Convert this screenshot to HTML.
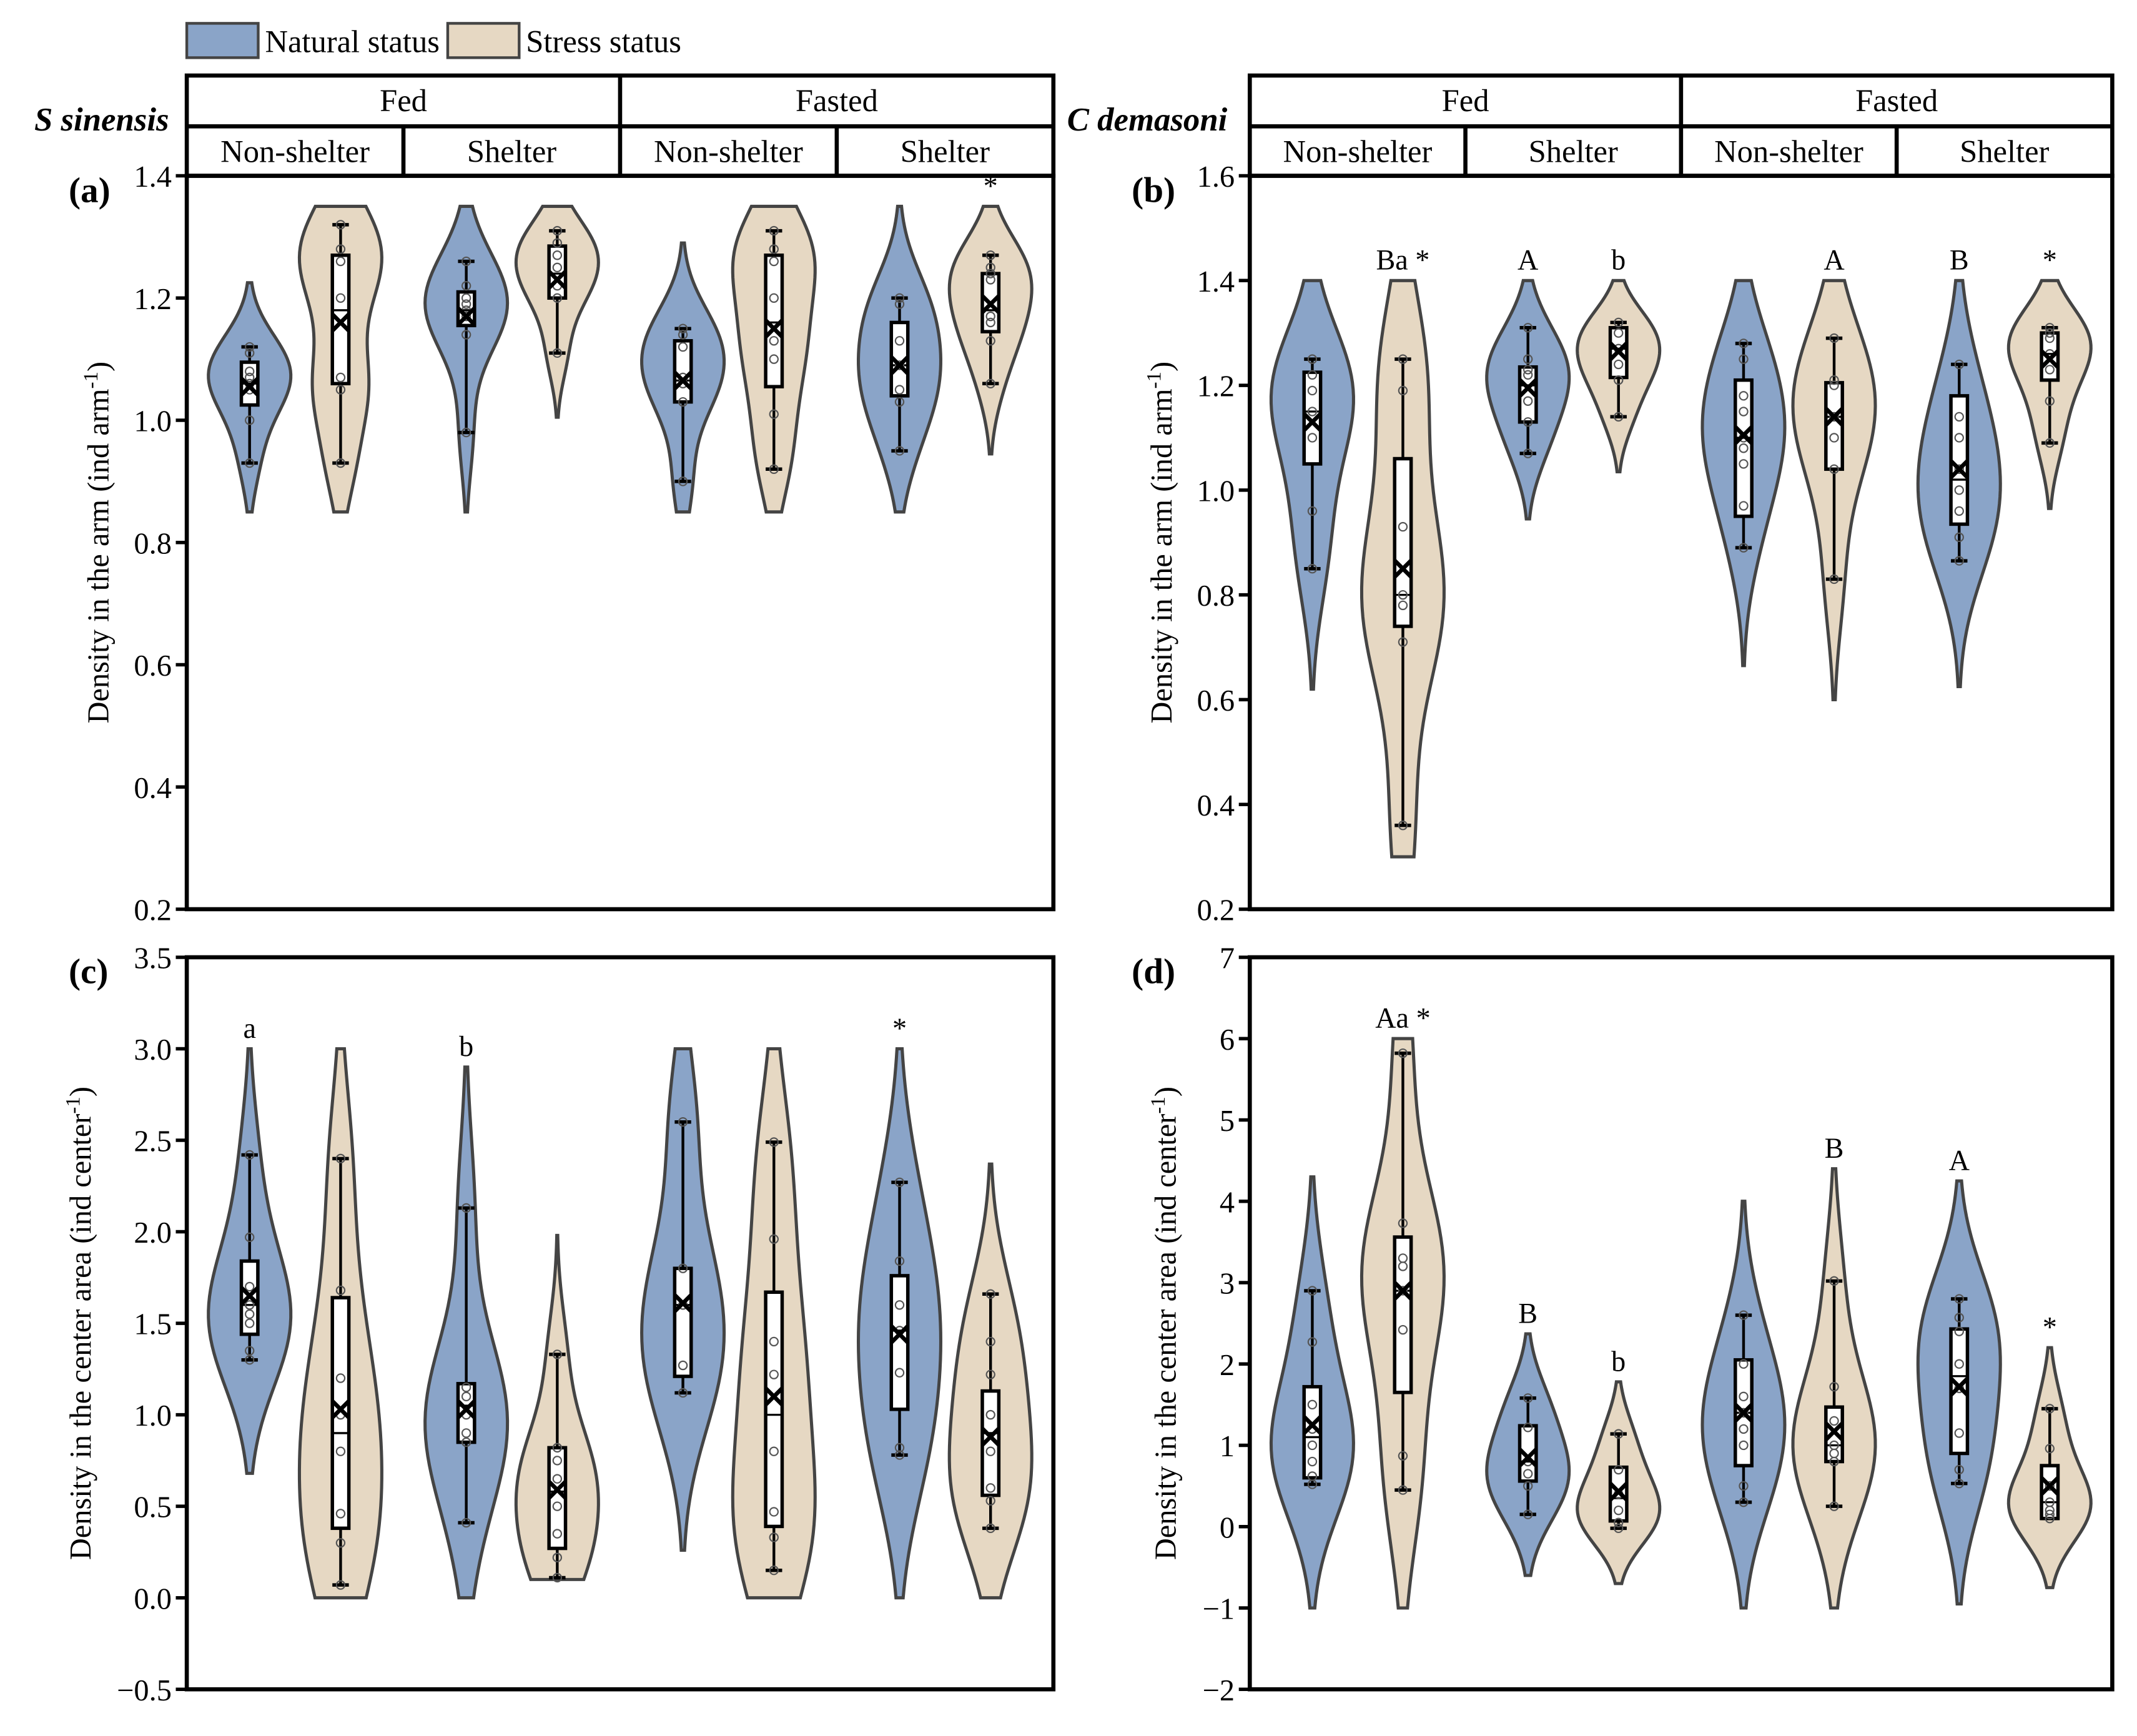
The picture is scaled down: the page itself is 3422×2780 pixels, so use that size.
<!DOCTYPE html>
<html><head><meta charset="utf-8">
<style>
html,body{margin:0;padding:0;background:#fff;}
svg{display:block;font-family:"Liberation Serif",serif;}
</style></head>
<body>
<svg id="chart" width="3422" height="2780" viewBox="0 0 1556 1264" preserveAspectRatio="none" xmlns="http://www.w3.org/2000/svg">
<g>
 <rect x="136" y="17" width="52" height="25" fill="#8aa4c8" stroke="#444" stroke-width="2"/>
 <text x="193" y="38" font-size="23">Natural status</text>
 <rect x="326" y="17" width="52" height="25" fill="#e6d8c3" stroke="#444" stroke-width="2"/>
 <text x="383" y="38" font-size="23">Stress status</text>
</g>
</svg>
<script>
const NS='http://www.w3.org/2000/svg';
const svg=document.getElementById('chart');
function mk(tag,attrs,parent,txt){const e=document.createElementNS(NS,tag);for(const k in attrs)e.setAttribute(k,attrs[k]);if(txt!==undefined)e.textContent=txt;(parent||svg).appendChild(e);return e;}

// ---------- Panel (a) data ----------
const aPoints=[[0.93,1.0,1.05,1.06,1.07,1.08,1.11,1.12],[0.93,1.05,1.07,1.2,1.26,1.28,1.32],[0.98,1.14,1.17,1.18,1.19,1.2,1.22,1.26],[1.11,1.2,1.22,1.25,1.27,1.29,1.31],[0.9,1.03,1.06,1.07,1.12,1.14,1.15],[0.92,1.01,1.1,1.13,1.2,1.26,1.28,1.31],[0.95,1.03,1.05,1.09,1.13,1.19,1.2],[1.06,1.13,1.16,1.17,1.23,1.24,1.25,1.27]];
const aBox=[[1.025,1.06,1.095],[1.06,1.18,1.27],[1.155,1.18,1.21],[1.2,1.24,1.285],[1.03,1.065,1.13],[1.055,1.16,1.27],[1.04,1.09,1.16],[1.145,1.18,1.24]];
const aMean=[1.055,1.16,1.17,1.23,1.065,1.15,1.09,1.19];
const aRange=[[0.85,1.225],[0.85,1.35],[0.85,1.35],[1.005,1.35],[0.85,1.29],[0.85,1.35],[0.85,1.35],[0.945,1.35]];
const aLabels=['','','','','','','','*'];
const aTicks=[0.2,0.4,0.6,0.8,1.0,1.2,1.4];
// ---------- Panel (b) data ----------
const bPoints=[[0.85,0.96,1.1,1.15,1.19,1.22,1.25],[0.36,0.71,0.78,0.8,0.93,1.19,1.25],[1.07,1.13,1.17,1.22,1.23,1.25,1.31],[1.14,1.21,1.24,1.27,1.3,1.32],[0.89,0.97,1.05,1.08,1.1,1.15,1.18,1.25,1.28],[0.83,1.04,1.1,1.14,1.2,1.21,1.29],[0.865,0.91,0.96,1.0,1.04,1.1,1.14,1.24],[1.09,1.17,1.23,1.26,1.29,1.3,1.31]];
const bBox=[[1.05,1.15,1.225],[0.74,0.8,1.06],[1.13,1.2,1.235],[1.215,1.27,1.31],[0.95,1.1,1.21],[1.04,1.14,1.205],[0.935,1.02,1.18],[1.21,1.26,1.3]];
const bMean=[1.13,0.85,1.195,1.265,1.105,1.14,1.04,1.25];
const bRange=[[0.62,1.4],[0.3,1.4],[0.945,1.4],[1.035,1.4],[0.665,1.4],[0.6,1.4],[0.625,1.4],[0.965,1.4]];
const bLabels=['','Ba *','A','b','','A','B','*'];
const bTicks=[0.2,0.4,0.6,0.8,1.0,1.2,1.4,1.6];
// ---------- Panel (c) data ----------
const cPoints=[[1.3,1.35,1.5,1.55,1.6,1.7,1.97,2.42],[0.07,0.3,0.46,0.8,1.0,1.2,1.68,2.4],[0.41,0.85,0.9,1.0,1.1,1.15,2.13],[0.11,0.22,0.35,0.5,0.65,0.75,0.82,1.33],[1.12,1.27,1.6,1.8,2.6],[0.15,0.33,0.47,0.8,1.22,1.4,1.96,2.49],[0.78,0.82,1.23,1.46,1.6,1.84,2.27],[0.38,0.53,0.6,0.8,1.0,1.22,1.4,1.66]];
const cBox=[[1.44,1.6,1.84],[0.38,0.9,1.64],[0.85,1.05,1.17],[0.27,0.58,0.82],[1.21,1.6,1.8],[0.39,1.0,1.67],[1.03,1.46,1.76],[0.56,0.9,1.13]];
const cMean=[1.65,1.03,1.03,0.59,1.61,1.1,1.44,0.88];
const cRange=[[0.68,3.0],[0,3.0],[0,2.9],[0.1,1.98],[0.26,3.0],[0,3.0],[0,3.0],[0,2.37]];
const cLabels=['a','','b','','','','*',''];
const cTicks=[-0.5,0.0,0.5,1.0,1.5,2.0,2.5,3.0,3.5];
// ---------- Panel (d) data ----------
const dPoints=[[0.52,0.62,0.8,1.0,1.2,1.5,2.27,2.9],[0.45,0.87,2.42,2.9,3.2,3.3,3.73,5.82],[0.15,0.5,0.65,0.8,1.22,1.58],[-0.02,0.05,0.2,0.4,0.7,1.14],[0.3,0.5,1.0,1.2,1.4,1.6,2.0,2.6],[0.25,0.8,0.9,1.0,1.3,1.72,3.02],[0.53,0.7,1.15,1.7,2.0,2.4,2.57,2.8],[0.1,0.15,0.2,0.3,0.5,0.96,1.45]];
const dBox=[[0.6,1.1,1.72],[1.65,2.9,3.56],[0.56,0.8,1.24],[0.07,0.35,0.73],[0.75,1.4,2.05],[0.8,1.0,1.47],[0.9,1.85,2.43],[0.1,0.3,0.75]];
const dMean=[1.25,2.9,0.85,0.43,1.4,1.17,1.72,0.5];
const dRange=[[-1,4.3],[-1,6.0],[-0.6,2.37],[-0.7,1.78],[-1,4.0],[-1,4.4],[-0.95,4.25],[-0.75,2.2]];
const dLabels=['','Aa *','B','b','','B','A','*'];
const dTicks=[-2,-1,0,1,2,3,4,5,6,7];

const panels=[
 {id:'a',x0:136,x1:767,y0:128,y1:662,min:0.2,max:1.4,pts:aPoints,box:aBox,mean:aMean,rng:aRange,lab:aLabels,ticks:aTicks,dec:1,title:'Density in the arm (ind arm',sup:'-1',tx:79,strip:true,species:'S sinensis',spx:25},
 {id:'b',x0:910,x1:1538,y0:128,y1:662,min:0.2,max:1.6,pts:bPoints,box:bBox,mean:bMean,rng:bRange,lab:bLabels,ticks:bTicks,dec:1,title:'Density in the arm (ind arm',sup:'-1',tx:853,strip:true,species:'C demasoni',spx:777},
 {id:'c',x0:136,x1:767,y0:697,y1:1230,min:-0.5,max:3.5,pts:cPoints,box:cBox,mean:cMean,rng:cRange,lab:cLabels,ticks:cTicks,dec:1,title:'Density in the center area (ind center',sup:'-1',tx:66,strip:false},
 {id:'d',x0:910,x1:1538,y0:697,y1:1230,min:-2,max:7,pts:dPoints,box:dBox,mean:dMean,rng:dRange,lab:dLabels,ticks:dTicks,dec:0,title:'Density  in the center area (ind center',sup:'-1',tx:856,strip:false}
];
const FILL=['#8aa4c8','#e6d8c3'];

panels.forEach(p=>{
 const g=mk('g',{});
 
 
 const Y=v=>p.y1-(v-p.min)/(p.max-p.min)*(p.y1-p.y0);
 const gw=(p.x1-p.x0)/4;
 const X=i=>p.x0+gw*Math.floor(i/2)+gw*(i%2?0.71:0.29);
 if(p.strip){
  const sg=mk('g',{},g);
  
  
  mk('rect',{x:p.x0,y:55,width:p.x1-p.x0,height:73,fill:'none',stroke:'#000','stroke-width':3},sg);
  mk('line',{x1:p.x0,x2:p.x1,y1:92,y2:92,stroke:'#000','stroke-width':3},sg);
  const mid=(p.x0+p.x1)/2;
  mk('line',{x1:mid,x2:mid,y1:55,y2:128,stroke:'#000','stroke-width':3},sg);
  [p.x0+gw,p.x0+3*gw].forEach(x=>mk('line',{x1:x,x2:x,y1:92,y2:128,stroke:'#000','stroke-width':3},sg));
  ['Fed','Fasted'].forEach((t,k)=>{const e=mk('text',{x:p.x0+gw*(2*k+1),y:81,'font-size':23,'text-anchor':'middle'},sg,t);
   });
  ['Non-shelter','Shelter','Non-shelter','Shelter'].forEach((t,k)=>{const e=mk('text',{x:p.x0+gw*(k+0.5),y:118,'font-size':23,'text-anchor':'middle'},sg,t);
   });
  const sp=mk('text',{x:p.spx,y:95,'font-size':24,'font-weight':'bold','font-style':'italic'},g,p.species);
  
 }
 const pl=mk('text',{x:p.x0-86,y:p.y0+19,'font-size':26,'font-weight':'bold'},g,'('+p.id+')');
 
 p.ticks.forEach(t=>{
  const y=Y(t);
  mk('line',{x1:p.x0-8,x2:p.x0,y1:y,y2:y,stroke:'#000','stroke-width':2.5},g);
  const lab=t<0?'\u2212'+Math.abs(t).toFixed(p.dec):t.toFixed(p.dec);
  const e=mk('text',{x:p.x0-11,y:y+8,'font-size':22,'text-anchor':'end'},g,lab);
  
 });
 const cy=(p.y0+p.y1)/2;
 const tt=mk('text',{x:p.tx,y:cy,'font-size':22,'text-anchor':'middle',transform:`rotate(-90 ${p.tx} ${cy})`},g);
 
 tt.appendChild(document.createTextNode(p.title));
 mk('tspan',{dy:-8,'font-size':15},tt,p.sup);
 mk('tspan',{dy:8},tt,')');
 p.pts.forEach((pts,i)=>{
  const vg=mk('g',{},g);
  
  
  const [lo,hi]=p.rng[i];
  const bw=(hi-lo)/7;
  const N=60, dens=[];
  for(let k=0;k<=N;k++){const v=lo+(hi-lo)*k/N;let s=0;pts.forEach(q=>{const z=(v-q)/bw;s+=Math.exp(-0.5*z*z);});dens.push([v,s]);}
  const mx=Math.max(...dens.map(d=>d[1]));
  const cx=X(i),hw=30;
  let L=[],R=[];
  dens.forEach(([v,s])=>{const w=hw*s/mx;R.push(`${cx+w},${Y(v)}`);L.unshift(`${cx-w},${Y(v)}`);});
  mk('polygon',{points:R.concat(L).join(' '),fill:FILL[i%2],stroke:'#444','stroke-width':2.3},vg);
  const [q1,med,q3]=p.box[i];
  const wl=Math.min(...pts),wh=Math.max(...pts);
  mk('line',{x1:cx,x2:cx,y1:Y(wl),y2:Y(wh),stroke:'#000','stroke-width':2},vg);
  [wl,wh].forEach(v=>mk('line',{x1:cx-6,x2:cx+6,y1:Y(v),y2:Y(v),stroke:'#000','stroke-width':2.5},vg));
  mk('rect',{x:cx-6,y:Y(q3),width:12,height:Y(q1)-Y(q3),fill:'#fff',stroke:'#000','stroke-width':2.5},vg);
  mk('line',{x1:cx-6,x2:cx+6,y1:Y(med),y2:Y(med),stroke:'#000','stroke-width':1.5},vg);
  pts.forEach(v=>mk('circle',{cx:cx,cy:Y(v),r:3,fill:'none',stroke:'#555','stroke-width':1},vg));
  const my=Y(p.mean[i]);
  mk('path',{d:`M${cx-6},${my-6}L${cx+6},${my+6}M${cx-6},${my+6}L${cx+6},${my-6}`,stroke:'#000','stroke-width':3},vg);
  if(p.lab[i]){const e=mk('text',{x:cx,y:Y(hi)-8,'font-size':21,'text-anchor':'middle'},vg,p.lab[i]);
   }
 });
 const fr=mk('rect',{x:p.x0,y:p.y0,width:p.x1-p.x0,height:p.y1-p.y0,fill:'none',stroke:'#000','stroke-width':3},g);
 
});
</script>
</body></html>
